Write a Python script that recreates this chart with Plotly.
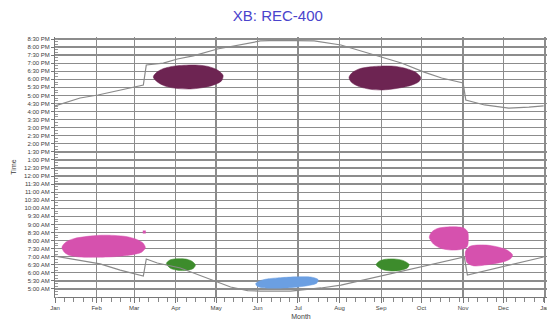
import pandas as pd
import plotly.graph_objects as go

YEAR_START = pd.Timestamp("2014-01-01")

# ---- data (day-of-year offset from Jan 1, hour of day) ----
sunset_day = [0, 18.7, 32, 56, 65.8, 68, 80.7, 91.2, 103, 121, 138, 153, 166, 183, 193,
              213, 245, 258, 275, 288, 304, 306, 320, 338, 353, 364]
sunset_hr = [16.35, 16.84, 17.03, 17.5, 17.65, 18.89, 19.01, 19.26, 19.45, 19.88, 20.13,
             20.38, 20.41, 20.38, 20.38, 20.13, 19.32, 19.01, 18.45, 18.08, 17.77, 16.72,
             16.41, 16.22, 16.28, 16.35]

sunrise_day = [0, 18.7, 33.6, 48.6, 63.5, 65.8, 68.0, 76.2, 93.4, 113.6, 130.8, 143.5,
               153.2, 175.6, 198.1, 213.0, 242.9, 275.0, 304.9, 307.2, 337.8, 364]
sunrise_hr = [7.04, 6.79, 6.55, 6.17, 5.86, 5.80, 6.86, 6.61, 6.30, 5.68, 5.12, 4.90,
              4.87, 4.87, 5.06, 5.24, 5.80, 6.42, 6.98, 5.86, 6.48, 6.98]

# activity clusters (outline day, outline hour)
evening_spring_day = [73.2, 76.0, 80.5, 89.7, 104.6, 114.0, 121.0, 125.2, 124.0, 117.3,
                      108.0, 100.9, 90.0, 82.0, 76.5]
evening_spring_hr = [18.15, 18.45, 18.66, 18.83, 18.89, 18.80, 18.58, 18.25, 17.90, 17.62,
                     17.46, 17.40, 17.44, 17.58, 17.82]

evening_fall_day = [219.0, 221.5, 227.0, 235.4, 246.0, 254.1, 262.0, 268.5, 272.5, 271.0,
                    265.0, 254.1, 244.0, 235.0, 226.5, 221.0]
evening_fall_hr = [18.12, 18.42, 18.66, 18.78, 18.83, 18.80, 18.66, 18.45, 18.10, 17.85,
                   17.62, 17.43, 17.34, 17.38, 17.55, 17.80]

winter_morning_day = [5.2, 8.0, 14.0, 24.0, 33.6, 44.0, 53.8, 60.5, 65.5, 67.3, 64.5,
                      56.0, 44.0, 31.0, 18.7, 10.0, 6.5]
winter_morning_hr = [7.60, 7.90, 8.12, 8.26, 8.33, 8.32, 8.24, 8.08, 7.85, 7.55, 7.28,
                     7.10, 7.00, 6.97, 6.98, 7.10, 7.32]

stray_day = [66.5]
stray_hr = [8.53]

spring_morning_day = [83.0, 85.5, 90.0, 97.2, 102.0, 104.6, 103.0, 98.0, 91.9, 86.0]
spring_morning_hr = [6.58, 6.79, 6.87, 6.86, 6.72, 6.48, 6.27, 6.15, 6.15, 6.28]

fall_morning_day = [239.2, 241.5, 246.0, 252.6, 259.0, 263.8, 262.5, 257.0, 250.4, 243.5]
fall_morning_hr = [6.50, 6.72, 6.84, 6.86, 6.77, 6.52, 6.30, 6.15, 6.11, 6.22]

summer_morning_day = [149.5, 152.5, 158.0, 168.0, 180.0, 190.6, 196.0, 195.0, 188.0,
                      176.0, 163.0, 154.0, 150.5]
summer_morning_hr = [5.33, 5.50, 5.62, 5.70, 5.75, 5.74, 5.58, 5.36, 5.20, 5.08, 5.05,
                     5.08, 5.17]

oct_morning_day = [278.8, 280.5, 284.5, 291.5, 299.0, 304.5, 307.4, 307.9, 307.0, 302.0,
                   295.2, 287.5, 282.0]
oct_morning_hr = [8.20, 8.52, 8.74, 8.84, 8.85, 8.78, 8.55, 8.10, 7.62, 7.45, 7.41,
                  7.52, 7.78]

nov_morning_day = [305.7, 308.5, 314.0, 321.4, 329.0, 336.0, 340.8, 339.5, 333.0, 322.0,
                   312.0, 307.0]
nov_morning_hr = [7.30, 7.62, 7.72, 7.72, 7.62, 7.44, 7.12, 6.88, 6.66, 6.50, 6.43, 6.62]

month_ticks = ["2014-01-01", "2014-02-01", "2014-03-01", "2014-04-01", "2014-05-01",
               "2014-06-01", "2014-07-01", "2014-08-01", "2014-09-01", "2014-10-01",
               "2014-11-01", "2014-12-01", "2015-01-01"]
month_labels = ["Jan", "Feb", "Mar", "Apr", "May", "Jun", "Jul", "Aug", "Sep", "Oct",
                "Nov", "Dec", "Jan"]

time_tickvals = [5.0, 5.5, 6.0, 6.5, 7.0, 7.5, 8.0, 8.5, 9.0, 9.5, 10.0, 10.5, 11.0, 11.5,
                 12.0, 12.5, 13.0, 13.5, 14.0, 14.5, 15.0, 15.5, 16.0, 16.5, 17.0, 17.5,
                 18.0, 18.5, 19.0, 19.5, 20.0, 20.5]
time_labels = ["5:00 AM", "5:30 AM", "6:00 AM", "6:30 AM", "7:00 AM", "7:30 AM",
               "8:00 AM", "8:30 AM", "9:00 AM", "9:30 AM", "10:00 AM", "10:30 AM",
               "11:00 AM", "11:30 AM", "12:00 PM", "12:30 PM", "1:00 PM", "1:30 PM",
               "2:00 PM", "2:30 PM", "3:00 PM", "3:30 PM", "4:00 PM", "4:30 PM",
               "5:00 PM", "5:30 PM", "6:00 PM", "6:30 PM", "7:00 PM", "7:30 PM",
               "8:00 PM", "8:30 PM"]


def to_dates(days):
    return [YEAR_START + pd.to_timedelta(d, unit="D") for d in days]


DARK = "#6d2452"
PINK = "#d651ae"
GREEN = "#3d8c2c"
BLUE = "#6b9fe2"
LINE = "#8a8a8a"
TEXT = "rgb(60,60,60)"

fig = go.Figure()


def blob(days, hrs, color):
    d = list(days) + [days[0]]
    h = list(hrs) + [hrs[0]]
    fig.add_trace(go.Scatter(
        x=to_dates(d), y=h, mode="lines", fill="toself", fillcolor=color,
        line=dict(color=color, width=0.5, shape="spline", smoothing=0.8),
        hoverinfo="skip", showlegend=False))


blob(evening_spring_day, evening_spring_hr, DARK)
blob(evening_fall_day, evening_fall_hr, DARK)
blob(winter_morning_day, winter_morning_hr, PINK)
blob(spring_morning_day, spring_morning_hr, GREEN)
blob(fall_morning_day, fall_morning_hr, GREEN)
blob(summer_morning_day, summer_morning_hr, BLUE)
blob(oct_morning_day, oct_morning_hr, PINK)
blob(nov_morning_day, nov_morning_hr, PINK)

fig.add_trace(go.Scatter(
    x=to_dates(stray_day), y=stray_hr, mode="markers",
    marker=dict(color=PINK, size=3, symbol="square"), hoverinfo="skip",
    showlegend=False))

fig.add_trace(go.Scatter(
    x=to_dates(sunset_day), y=sunset_hr, mode="lines",
    line=dict(color=LINE, width=1.2), hoverinfo="skip", showlegend=False))
fig.add_trace(go.Scatter(
    x=to_dates(sunrise_day), y=sunrise_hr, mode="lines",
    line=dict(color=LINE, width=1.2), hoverinfo="skip", showlegend=False))

FONT = "Liberation Sans, Arial, sans-serif"

fig.update_layout(
    template="none",
    width=547, height=321,
    margin=dict(l=55, r=0, t=37, b=24, autoexpand=False),
    paper_bgcolor="white", plot_bgcolor="white",
    font=dict(family=FONT, color=TEXT),
    title=dict(text="XB: REC-400", x=0.508, xref="container", xanchor="center",
               y=0.952, yref="container", yanchor="middle",
               font=dict(size=15, color="#4a44cc", family=FONT)),
    showlegend=False,
    hovermode=False,
)

fig.update_xaxes(
    type="date", automargin=False,
    range=[YEAR_START, YEAR_START + pd.to_timedelta(366.5, unit="D")],
    tickmode="array", tickvals=month_ticks, ticktext=month_labels,
    tickfont=dict(size=6, color=TEXT, family=FONT),
    ticklabeloverflow="allow",
    ticks="outside", ticklen=5, tickcolor="#777777", tickwidth=1,
    showgrid=True, gridcolor="#8c8c8c", gridwidth=1.3,
    showline=True, linecolor="#777777", linewidth=1,
    minor=dict(dtick=7 * 24 * 3600 * 1000, tick0="2014-01-01", ticks="outside",
               ticklen=4, tickcolor="#888888", tickwidth=1, showgrid=False),
    title=dict(text="Month", font=dict(size=7, color=TEXT, family=FONT), standoff=3),
    zeroline=False, fixedrange=True,
)

fig.update_yaxes(
    automargin=False,
    range=[4.5, 20.625],
    tickmode="array", tickvals=time_tickvals, ticktext=time_labels,
    tickfont=dict(size=6, color=TEXT, family=FONT),
    ticks="outside", ticklen=3, tickcolor="#777777", tickwidth=1,
    showgrid=True, gridcolor="#8c8c8c", gridwidth=1.3,
    showline=True, linecolor="#777777", linewidth=1,
    minor=dict(dtick=1 / 6, tick0=5, ticks="inside", ticklen=3,
               tickcolor="#999999", tickwidth=1, showgrid=False),
    title=dict(text="Time", font=dict(size=7, color=TEXT, family=FONT), standoff=6),
    zeroline=False, fixedrange=True,
)

fig.write_html(
    "out.html",
    config={"displayModeBar": False, "staticPlot": True},
    post_script="document.body.style.margin='0';document.body.style.padding='0';",
)
